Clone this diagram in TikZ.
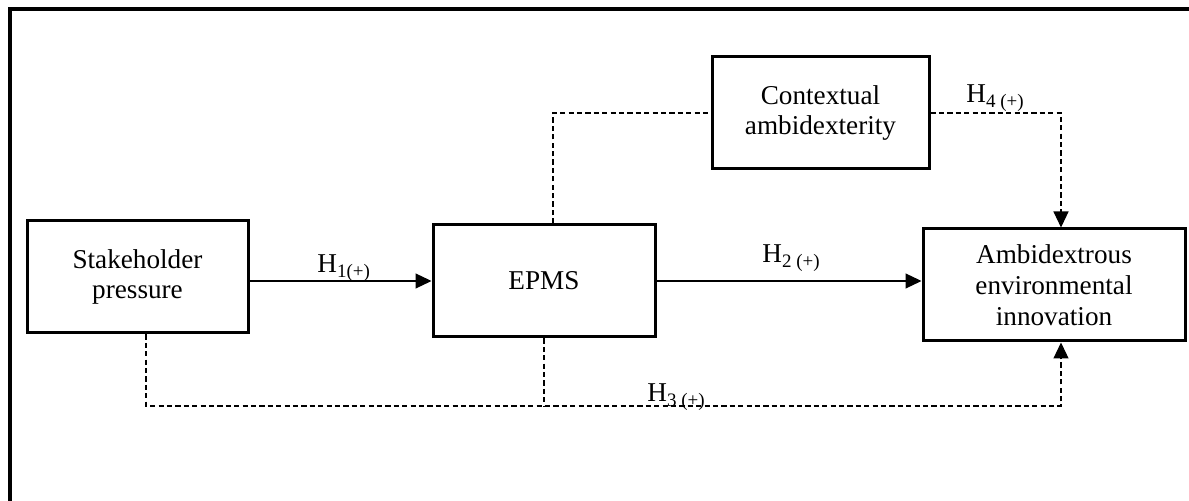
\documentclass[tikz,border=0pt]{standalone}
\usepackage{fontspec}
\setmainfont{Liberation Serif}
\usetikzlibrary{arrows.meta,calc}
\newcommand{\hlab}[1]{H\raisebox{-0.35ex}{\fontsize{9.5}{10}\selectfont #1}}
\begin{document}
\begin{tikzpicture}[x=0.5pt,y=-0.5pt,
  box/.style={draw,line width=1.5pt,align=center,font=\fontsize{13.6}{15.4}\selectfont,inner sep=0pt},
  conn/.style={line width=0.6pt},
  dsh/.style={line width=0.6pt,dash pattern=on 2.6pt off 1.6pt},
  tip/.style={-{Triangle[length=8pt,width=7.5pt]}},
  lab/.style={anchor=base west,inner sep=0pt,font=\fontsize{13.6}{15}\selectfont}]
\useasboundingbox (0,0) rectangle (1189,501);
\draw[line width=1.6pt] (1189,9) -- (10,9) -- (10,501);
\node[box,minimum width=221*0.5pt,minimum height=112*0.5pt] (stake) at (137.5,277) {Stakeholder\\pressure};
\node[box,minimum width=222*0.5pt,minimum height=112*0.5pt] (epms) at (544,281) {EPMS};
\node[box,minimum width=217*0.5pt,minimum height=112*0.5pt] (ctx) at (820.5,113) {Contextual\\ambidexterity};
\node[box,minimum width=262*0.5pt,minimum height=112*0.5pt] (amb) at (1054,285) {Ambidextrous\\environmental\\innovation};
\coordinate (ctxturn) at (553,113);
\coordinate (h4turn) at (1061,113);
\coordinate (h3left) at (146,406);
\coordinate (h3right) at (1061,406);
\draw[conn,tip] (stake.east |- epms.west) -- (epms.west);
\draw[conn,tip] (epms.east) -- (amb.west |- epms.east);
\draw[dsh] (epms.north -| ctxturn) -- (ctxturn) -- (ctx.west);
\draw[dsh,tip] (ctx.east) -- (h4turn) -- (amb.north -| h4turn);
\draw[dsh,tip] (stake.south -| h3left) -- (h3left) -- (h3right) -- (amb.south -| h3right);
\draw[dsh] (epms.south) -- (epms.south |- h3left);
\node[lab] (l1) at (317,273) {\hlab{1(+)}};
\node[lab] (l2) at (762,263) {\hlab{2 (+)}};
\node[lab] (l3) at (647,402) {\hlab{3 (+)}};
\node[lab] (l4) at (966,103) {\hlab{4 (+)}};
\end{tikzpicture}
\end{document}
